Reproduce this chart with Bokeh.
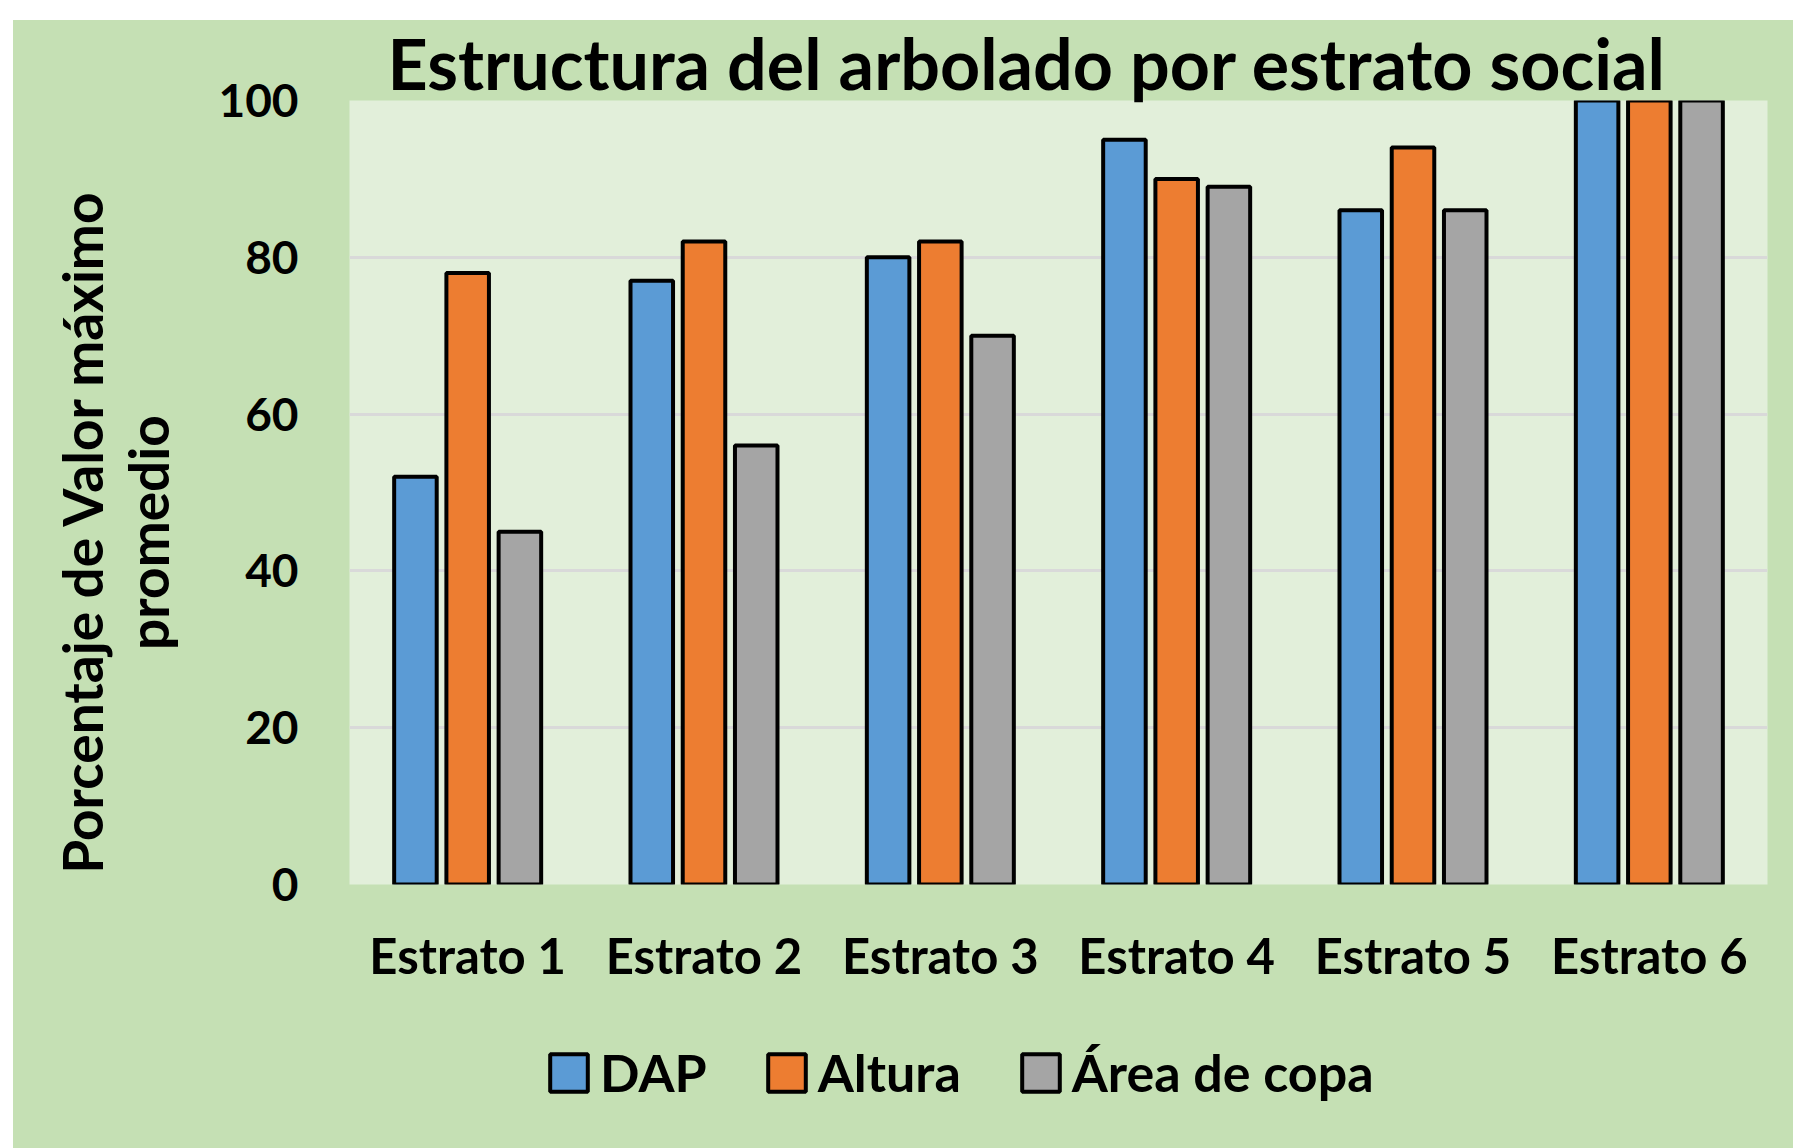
from bokeh.plotting import figure
from bokeh.models import (FactorRange, Range1d, Legend, LegendItem, Label, ColumnDataSource,
                          FixedTicker, Spacer)
from bokeh.transform import dodge
from bokeh.layouts import column, row
from bokeh.embed import file_html
from bokeh.resources import INLINE

# ---- data ----
categories = ["Estrato 1", "Estrato 2", "Estrato 3", "Estrato 4", "Estrato 5", "Estrato 6"]
dap = [52, 77, 80, 95, 86, 100]
altura = [78, 82, 82, 90, 94, 100]
area_copa = [45, 56, 70, 89, 86, 100]
series_names = ["DAP", "Altura", "Área de copa"]
series_keys = ["dap", "altura", "area"]
series_colors = ["#5B9BD5", "#ED7D31", "#A5A5A5"]
y_ticks = [0, 20, 40, 60, 80, 100]
title_text = "Estructura del arbolado por estrato social"
ylabel_line1 = "Porcentaje de Valor máximo"
ylabel_line2 = "promedio"

FONT = "Lato"
OUTER = "#C5E0B4"
INNER = "#E2EFDA"
GRID = "#D9D9D9"

source = ColumnDataSource(dict(cat=categories, dap=dap, altura=altura, area=area_copa))
offsets = [-0.221, 0.0, 0.221]

# ---------------- main chart ----------------
p = figure(x_range=FactorRange(*categories), y_range=Range1d(0, 100),
           width=1580, height=980, output_backend="svg", toolbar_location=None,
           min_border_left=136, min_border_right=26, min_border_top=80, min_border_bottom=116,
           background_fill_color=INNER, border_fill_color=OUTER, outline_line_color=None)
p.frame_align = False
p.x_range.range_padding = 0

for key, color, off in zip(series_keys, series_colors, offsets):
    p.vbar(x=dodge("cat", off, range=p.x_range), top=key, width=0.18, source=source,
           fill_color=color, line_color="black", line_width=4)

p.title.text = title_text
p.title.text_font = FONT
p.title.text_font_size = "70px"
p.title.text_font_style = "bold"
p.title.text_color = "black"
p.title.align = "left"
p.title.offset = 38
p.title.standoff = -8

p.yaxis.ticker = FixedTicker(ticks=y_ticks)
p.yaxis.major_tick_line_color = None
p.yaxis.minor_tick_line_color = None
p.yaxis.axis_line_color = None
p.yaxis.major_label_standoff = 45
p.yaxis.major_label_text_font = FONT
p.yaxis.major_label_text_font_size = "46px"
p.yaxis.major_label_text_font_style = "bold"
p.yaxis.major_label_text_color = "black"

p.xaxis.major_tick_line_color = None
p.xaxis.minor_tick_line_color = None
p.xaxis.axis_line_color = None
p.xaxis.major_label_standoff = 35
p.xaxis.major_label_text_font = FONT
p.xaxis.major_label_text_font_size = "49px"
p.xaxis.major_label_text_font_style = "bold"
p.xaxis.major_label_text_color = "black"

p.xgrid.grid_line_color = None
p.ygrid.grid_line_color = GRID
p.ygrid.grid_line_width = 3

# ---------------- y axis title (left strip) ----------------
yfig = figure(width=200, height=980, x_range=Range1d(0, 200), y_range=Range1d(0, 980),
              output_backend="svg", toolbar_location=None, x_axis_type=None, y_axis_type=None,
              min_border=0, background_fill_color=OUTER, border_fill_color=OUTER,
              outline_line_color=None)
yfig.frame_align = False
yfig.grid.visible = False
for txt, xs, ys in [(ylabel_line1, 68, 469), (ylabel_line2, 134, 468)]:
    yfig.add_layout(Label(text=txt, x=xs, y=ys, angle=90, angle_units="deg",
                          text_align="center", text_baseline="alphabetic",
                          text_font=FONT, text_font_size="55px", text_font_style="bold",
                          text_color="black"))

# ---------------- legend (bottom strip) ----------------
legfig = figure(width=1780, height=148, x_range=FactorRange(*categories), y_range=Range1d(0, 100),
                output_backend="svg", toolbar_location=None, x_axis_type=None, y_axis_type=None,
                min_border=0, background_fill_color=OUTER, border_fill_color=OUTER,
                outline_line_color=None)
legfig.frame_align = False
legfig.grid.visible = False
leg_renderers = []
for key, color, off in zip(series_keys, series_colors, offsets):
    r = legfig.vbar(x=dodge("cat", off, range=legfig.x_range), top=key, width=0.18, source=source,
                    fill_color=color, line_color="black", line_width=4, visible=False)
    leg_renderers.append(r)
items = [LegendItem(label=n, renderers=[r]) for n, r in zip(series_names, leg_renderers)]
legend = Legend(items=items, orientation="horizontal", location=(522, 35),
                label_text_font=FONT, label_text_font_size="52px", label_text_font_style="bold",
                label_text_color="black", glyph_width=47, glyph_height=47, label_standoff=8,
                spacing=56, padding=10, margin=0, inactive_fill_alpha=0,
                background_fill_alpha=0, border_line_alpha=0)
legfig.add_layout(legend, "center")

green = {"background-color": OUTER}
inner = column(row(yfig, p, styles=green), legfig, styles=green)
layout = column(Spacer(height=20, width=10),
                row(Spacer(width=13, height=10), inner))
open("out.html", "w").write(file_html(layout, INLINE))
